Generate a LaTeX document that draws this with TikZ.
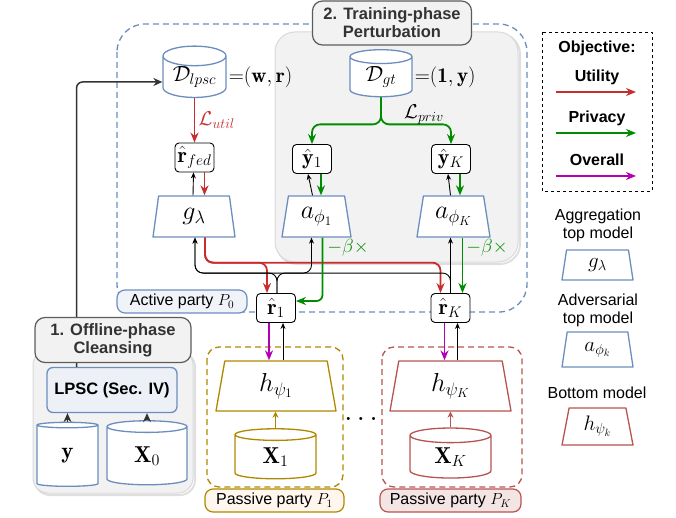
\RequirePackage{fix-cm}
\documentclass[tikz,border=0pt]{standalone}
\usepackage{amsmath}
\usepackage{fontspec}
\setsansfont{Liberation Sans}
\usepackage{xcolor}
\usepackage{tikz}
\usetikzlibrary{arrows.meta, positioning, shapes.geometric, calc}
\definecolor{partyblue}{RGB}{108,142,191}
\definecolor{utilred}{RGB}{200,45,45}
\definecolor{privgreen}{RGB}{0,140,0}
\definecolor{allmag}{RGB}{180,0,180}
\definecolor{passgold}{RGB}{176,136,0}
\definecolor{passbrick}{RGB}{184,84,80}
\definecolor{phasegray}{RGB}{242,242,242}
\definecolor{darkline}{RGB}{51,51,51}

\begin{document}
\begin{tikzpicture}[x=1pt, y=-1pt, line join=round,
    every node/.style={font=\sffamily\fontsize{16}{18}\selectfont},
    phasebg/.style={draw=gray!30, fill=phasegray, line width=1pt},
    phasetitle/.style={draw=darkline!80, fill=phasegray, rounded corners=10pt, line width=1.2pt,
        align=center, text=darkline, inner sep=2pt, font=\sffamily\bfseries\fontsize{16.5}{18}\selectfont},
    smallbox/.style={draw, rounded corners=4pt, fill=white, minimum width=39pt, minimum height=29pt,
        inner sep=1pt, line width=0.9pt, font=\fontsize{22}{24}\selectfont},
    model/.style={trapezium, trapezium left angle=71, trapezium right angle=71, trapezium stretches body,
        fill=white, line width=1.3pt, inner sep=0pt, font=\fontsize{26}{28}\selectfont},
    datacyl/.style={cylinder, shape border rotate=90, aspect=0.45, fill=white, line width=1.3pt,
        inner sep=0pt, font=\fontsize{23}{25}\selectfont},
    partylabel/.style={rounded corners=8pt, line width=1.2pt, minimum height=23pt, inner sep=3pt},
    gradup/.style={-{Stealth[length=6pt,width=5pt]}, line width=0.9pt},
    utilarr/.style={-{Stealth[length=10pt,width=8pt]}, utilred, line width=1.8pt},
    privarr/.style={-{Stealth[length=10pt,width=8pt]}, privgreen, line width=1.8pt},
    allarr/.style={-{Stealth[length=10pt,width=8pt]}, allmag, line width=1.8pt},
    darkarr/.style={-{Stealth[length=9pt,width=8pt]}, darkline, line width=1.5pt}]
\useasboundingbox (0,0) rectangle (676,518);

% active party and training phase
\draw[partyblue, line width=1.3pt, dash pattern=on 6pt off 4pt, rounded corners=28pt] (117,24) rectangle (527,312);
\draw[gray!25, line width=2pt, rounded corners=20pt] (277,34) rectangle (520,264);
\draw[phasebg, rounded corners=20pt] (275,32) rectangle (518,262);
\node[phasetitle, minimum width=159pt, minimum height=44pt] (traintitle) at (392,23) {2. Training-phase\\Perturbation};
\node[partylabel, draw=partyblue, fill=partyblue!10, minimum width=130pt] (activelbl) at (182,301.5) {Active party $P_0$};

% offline phase
\draw[gray!25, line width=2pt, rounded corners=15pt] (35,352) rectangle (195,495);
\draw[phasebg, rounded corners=15pt] (33,350) rectangle (193,493);
\node[draw=partyblue, fill=partyblue!12, rounded corners=6pt, line width=1.3pt, minimum width=130pt, minimum height=45pt,
    font=\sffamily\bfseries\fontsize{16.5}{18}\selectfont] (lpsc) at (112,390) {LPSC (Sec. IV)};
\node[datacyl, draw=partyblue, minimum width=61pt, minimum height=64pt] (ycyl) at (67.5,456) {$\mathbf{y}$};
\node[datacyl, draw=partyblue, minimum width=80pt, minimum height=64pt] (xzero) at (147,456) {$\mathbf{X}_0$};
\draw[darkarr] (ycyl.north) -- (ycyl.north |- lpsc.south);
\draw[darkarr] (xzero.north) -- (xzero.north |- lpsc.south);

% labelled data
\node[datacyl, draw=partyblue, minimum width=63pt, minimum height=47pt, font=\fontsize{22}{24}\selectfont] (dlpsc) at (194.5,77) {$\mathcal{D}_{lpsc}$};
\node[right=2pt of dlpsc, inner sep=0pt, font=\fontsize{21}{24}\selectfont] (wr) {${=}(\mathbf{w},\mathbf{r})$};
\node[datacyl, draw=partyblue, minimum width=62pt, minimum height=47pt, font=\fontsize{22}{24}\selectfont] (dgt) at (381,77) {$\mathcal{D}_{gt}$};
\node[right=2pt of dgt, inner sep=0pt, font=\fontsize{21}{24}\selectfont] (oney) {${=}(\mathbf{1},\mathbf{y})$};
\draw[darkarr, rounded corners=6pt] ($(lpsc.north west)!0.23!(lpsc.north east)$) |- ([yshift=-5pt]dlpsc.west);
\node[phasetitle, minimum width=156pt, minimum height=45pt] (offtitle) at (113,340) {1. Offline-phase\\Cleansing};

% top models
\node[smallbox] (rfed) at (194.5,157.5) {$\hat{\mathbf{r}}_{fed}$};
\node[smallbox] (yone) at (312,159) {$\hat{\mathbf{y}}_1$};
\node[smallbox] (yk) at (451,159) {$\hat{\mathbf{y}}_K$};
\node[model, draw=partyblue, minimum width=82pt, minimum height=41pt] (gagg) at (194,216.5) {$g_\lambda$};
\node[model, draw=partyblue, minimum width=69pt, minimum height=41pt] (aone) at (316.5,216.5) {$a_{\phi_1}$};
\node[model, draw=partyblue, minimum width=73pt, minimum height=41pt] (ak) at (453.5,216.5) {$a_{\phi_K}$};
\node[smallbox] (rone) at (276,308) {$\hat{\mathbf{r}}_1$};
\node[smallbox] (rk) at (450.5,308) {$\hat{\mathbf{r}}_K$};

\draw[utilarr] (dlpsc.south -| rfed.north) -- node[right, font=\fontsize{20}{22}\selectfont] (lutil) {$\mathcal{L}_{util}$} (rfed.north);
\draw[privarr, rounded corners=8pt] (dgt.south) -- ++(0,27) -| (yone.north);
\draw[privarr, rounded corners=8pt] (dgt.south) -- ++(0,27) -| (yk.north);
\node[font=\fontsize{20}{22}\selectfont] (lpriv) at (424,115) {$\mathcal{L}_{priv}$};

\draw[gradup] ([xshift=-1pt]gagg.north) -- ([xshift=-1pt]rfed.south);
\draw[utilarr] ([xshift=10pt]rfed.south) -- ([xshift=10pt]rfed.south |- gagg.north);
\draw[gradup] ([xshift=-4pt]aone.north) -- ([xshift=-4pt]yone.south);
\draw[privarr] ([xshift=9pt]yone.south) -- ([xshift=9pt]yone.south |- aone.north);
\draw[gradup] ([xshift=-3pt]ak.north) -- ([xshift=-3pt]yk.south);
\draw[privarr] ([xshift=9pt]yk.south) -- ([xshift=9pt]yk.south |- ak.north);

% gradients to the embeddings
\draw[utilarr, rounded corners=8pt] ([xshift=11pt]gagg.south) -- ++(0,25) -| ([xshift=-9pt]rone.north);
\draw[utilarr, rounded corners=8pt] ([xshift=11pt]gagg.south) -- ++(0,25) -| ([xshift=-10pt]rk.north);
\draw[gradup, rounded corners=8pt] ([xshift=1pt]rone.north) -- ++(0,-20) -| ([xshift=1pt]gagg.south);
\draw[gradup, rounded corners=8pt] ([xshift=1pt]rone.north) -- ++(0,-20) -| ([xshift=-5pt]aone.south);
\draw[gradup, rounded corners=8pt] (rk.north) -- ++(0,-20) -| ([xshift=1pt]gagg.south);
\draw[gradup] (rk.north) -- (rk.north |- ak.south);
\draw[privarr, rounded corners=6pt] ([xshift=6pt]aone.south) |- ([yshift=7pt]rone.east);
\draw[privarr] ([xshift=9pt]ak.south) -- ([xshift=9pt]ak.south |- rk.north);
\node[text=privgreen, font=\fontsize{19}{20}\selectfont] (betaone) at (348,248) {$-\beta\times$};
\node[text=privgreen, font=\fontsize{19}{20}\selectfont] (betak) at (487,248) {$-\beta\times$};

% passive parties
\draw[passgold, line width=1.3pt, dash pattern=on 6pt off 4pt, rounded corners=12pt] (207,347) rectangle (343,487);
\draw[passbrick, line width=1.3pt, dash pattern=on 6pt off 4pt, rounded corners=12pt] (382,347) rectangle (522,487);
\node[partylabel, draw=passgold, fill=orange!7, minimum width=139pt] (pass1lbl) at (274.5,500.5) {Passive party $P_1$};
\node[partylabel, draw=passbrick, fill=passbrick!15, minimum width=141pt] (passklbl) at (450.5,500.5) {Passive party $P_K$};
\node[model, draw=passgold, minimum width=120pt, minimum height=50pt] (hone) at (276,386) {$h_{\psi_1}$};
\node[model, draw=passbrick, minimum width=121pt, minimum height=50pt] (hk) at (450.5,386) {$h_{\psi_K}$};
\node[datacyl, draw=passgold, minimum width=81pt, minimum height=50pt] (xone) at (275.5,457) {$\mathbf{X}_1$};
\node[datacyl, draw=passbrick, minimum width=81pt, minimum height=50pt] (xk) at (450.5,457) {$\mathbf{X}_K$};
\draw[-{Stealth[length=6pt,width=6pt]}, passgold, line width=0.9pt] (xone.north) -- (xone.north |- hone.south);
\draw[-{Stealth[length=6pt,width=6pt]}, passbrick, line width=0.9pt] (xk.north) -- (xk.north |- hk.south);
\draw[allarr] ([xshift=-7pt]rone.south) -- ([xshift=-7pt]rone.south |- hone.north);
\draw[gradup] ([xshift=7pt]rone.south |- hone.north) -- ([xshift=7pt]rone.south);
\draw[allarr] ([xshift=-6pt]rk.south) -- ([xshift=-6pt]rk.south |- hk.north);
\draw[gradup] ([xshift=7pt]rk.south |- hk.north) -- ([xshift=7pt]rk.south);
\node[font=\bfseries\fontsize{21}{22}\selectfont] (dots) at (361,419) {.\hspace{6pt}.\hspace{6pt}.};

% legend
\draw[dashed, line width=0.8pt] (542,32) rectangle (652,191);
\node[font=\sffamily\bfseries\fontsize{16}{18}\selectfont] (objlbl) at (597,48) {Objective:};
\node[font=\sffamily\bfseries\fontsize{16}{18}\selectfont] (utillbl) at (597,77) {Utility};
\node[font=\sffamily\bfseries\fontsize{16}{18}\selectfont] (privlbl) at (597,118) {Privacy};
\node[font=\sffamily\bfseries\fontsize{16}{18}\selectfont] (alllbl) at (597,160) {Overall};
\coordinate (ua) at (556,92); \coordinate (ub) at (636,92);
\coordinate (pa) at (556,133); \coordinate (pb) at (636,133);
\coordinate (oa) at (556,176); \coordinate (ob) at (636,176);
\draw[utilarr] (ua) -- (ub);
\draw[privarr] (pa) -- (pb);
\draw[allarr] (oa) -- (ob);

\node[align=center] (aggtxt) at (598,225) {Aggregation\\top model};
\node[model, draw=partyblue, minimum width=71pt, minimum height=30pt, font=\fontsize{21}{22}\selectfont] (lgagg) at (597.5,265) {$g_\lambda$};
\node[align=center] (advtxt) at (598,310) {Adversarial\\top model};
\node[model, draw=partyblue, minimum width=71pt, minimum height=35pt, font=\fontsize{21}{22}\selectfont] (lgadv) at (597.5,349.5) {$a_{\phi_k}$};
\node (bottxt) at (597,393) {Bottom model};
\node[model, draw=passbrick, minimum width=71pt, minimum height=37pt, font=\fontsize{21}{22}\selectfont] (lgbot) at (597.5,426.5) {$h_{\psi_k}$};
\end{tikzpicture}
\end{document}
